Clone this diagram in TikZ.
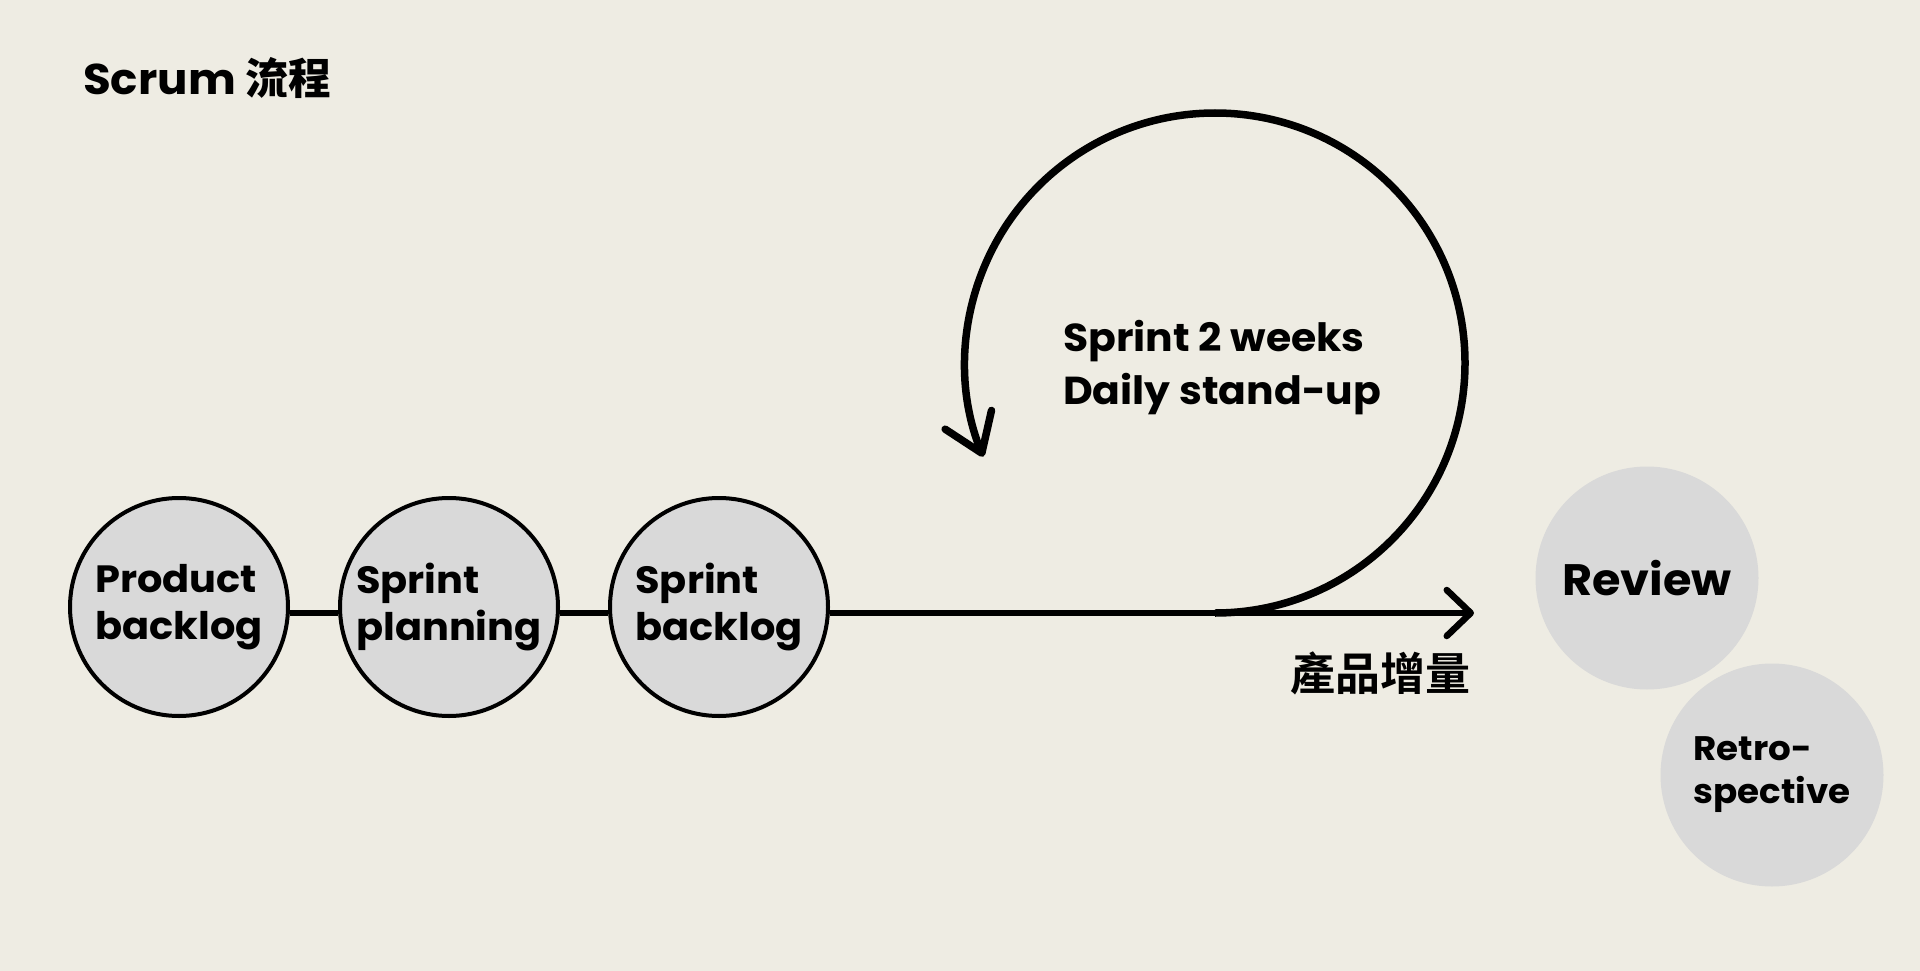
\documentclass[tikz,border=0pt]{standalone}
\usepackage{fontspec}
\setmainfont{Poppins}[FakeStretch=1.05]
\newfontfamily\cjk{Noto Sans CJK TC}[UprightFont=* Bold]
\usetikzlibrary{positioning,arrows.meta}
\definecolor{scpaper}{HTML}{EEECE3}
\definecolor{scgrey}{HTML}{D9D9D9}

\begin{document}
\begin{tikzpicture}[x=1pt,y=-1pt,node distance=48pt]
  \tikzstyle{stage}=[circle,draw,line width=4pt,fill=scgrey,minimum size=218pt,inner sep=0pt,align=left,font=\bfseries\fontsize{38}{47}\selectfont]
  \tikzstyle{ceremony}=[circle,fill=scgrey,minimum size=223pt,inner sep=0pt,align=left]
  \tikzstyle{flow}=[line width=6.5pt]
  % page
  \fill[scpaper] (0,0) rectangle (1920,971);
  \useasboundingbox (0,0) rectangle (1920,971);
  \node[anchor=base west,inner sep=0pt,font=\bfseries\fontsize{43}{43}\selectfont] (title) at (83,95) {Scrum {\cjk 流程}};
  % stages before the sprint
  \node[stage] (pb) at (179,607) {Product\\backlog};
  \node[stage,right=of pb] (sp) {Sprint\\planning};
  \node[stage,right=of sp] (sb) {Sprint\\backlog};
  \draw[flow] ([yshift=-6pt]pb.east) -- ([yshift=-6pt]sp.west);
  \draw[flow] ([yshift=-6pt]sp.east) -- ([yshift=-6pt]sb.west);
  % increment arrow
  \coordinate (tip) at (1474,613);
  \draw[flow,-{Straight Barb[length=24pt,width=46pt,round]}] ([yshift=-6pt]sb.east) -- (tip);
  \node[anchor=north east,inner sep=0pt,font=\cjk\fontsize{45}{45}\selectfont] (incr) at (1471,652) {產品增量};
  % sprint loop
  \node[anchor=west,align=left,inner sep=0pt,font=\bfseries\fontsize{39}{53}\selectfont] (sprint) at (1063,368) {Sprint 2 weeks\\Daily stand-up};
  \coordinate (loopstart) at (1215,613);
  \draw[line width=7.5pt,-{Straight Barb[length=36pt,width=50pt,round]}] (loopstart) arc[start angle=90,end angle=-202,radius=250];
  % review and retro
  \node[ceremony,font=\bfseries\fontsize{44}{44}\selectfont] (review) at (1647,578) {Review};
  \node[ceremony,font=\bfseries\fontsize{34}{43}\selectfont] (retro) at (1772,775) {Retro-\\spective};
\end{tikzpicture}
\end{document}
